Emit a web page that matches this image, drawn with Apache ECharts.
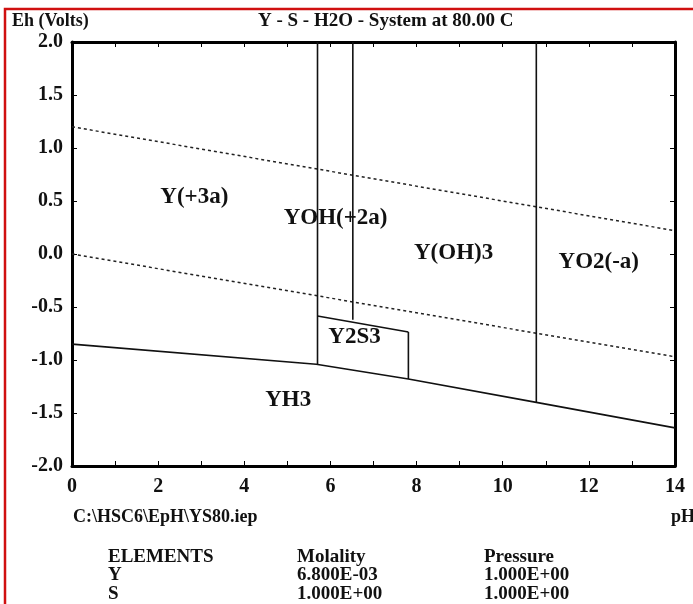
<!DOCTYPE html>
<html>
<head>
<meta charset="utf-8">
<script src="https://cdn.jsdelivr.net/npm/echarts@6/dist/echarts.min.js"></script>
<style>
html,body{margin:0;padding:0;background:#fff;}
#c{width:693px;height:604px;}
</style>
</head>
<body>
<div id="c"></div>
<script>
// ---- data (pH, Eh in volts) ----
const titleText = 'Y - S - H2O - System at 80.00 C';
const upperWater = [[0, 1.20], [14, 0.22]];
const lowerWater = [[0, 0.00], [14, -0.97]];
const hydrideBoundary = [[0, -0.85], [5.67, -1.04], [7.81, -1.18], [10.78, -1.40], [14, -1.64]];
const yIonBoundary = [[5.70, 2.0], [5.70, -1.04]];
const yohBoundary = [[6.52, 2.0], [6.52, -0.62]];
const y2s3Top = [[5.70, -0.585], [7.81, -0.736]];
const y2s3Right = [[7.81, -0.736], [7.81, -1.18]];
const yo2Boundary = [[10.78, 2.0], [10.78, -1.40]];
const regionLabels = [
  {name: 'Y(+3a)', value: [2.84, 0.54]},
  {name: 'YOH(+2a)', value: [6.12, 0.34]},
  {name: 'Y(OH)3', value: [8.86, 0.01]},
  {name: 'YO2(-a)', value: [12.23, -0.08]},
  {name: 'Y2S3', value: [6.56, -0.78]},
  {name: 'YH3', value: [5.02, -1.38]}
];
const xTicks = [0, 2, 4, 6, 8, 10, 12, 14];
const elementRows = [
  ['ELEMENTS', 'Molality', 'Pressure'],
  ['Y', '6.800E-03', '1.000E+00'],
  ['S', '1.000E+00', '1.000E+00']
];

const FONT = '"Liberation Serif", "DejaVu Serif", serif';
const chart = echarts.init(document.getElementById('c'));

function solid(data) {
  return {type: 'line', data: data, symbol: 'none', silent: true,
    lineStyle: {color: '#111', width: 1.6}, z: 3};
}
function dotted(data) {
  return {type: 'line', data: data, symbol: 'none', silent: true,
    lineStyle: {color: '#222', width: 1.5, type: [3, 3]}, z: 2};
}

const axisCommon = {
  type: 'value',
  axisLine: {show: true, onZero: false, lineStyle: {color: '#000', width: 3}},
  axisTick: {show: true, inside: true, length: 5, lineStyle: {color: '#000', width: 1}},
  splitLine: {show: false}
};

const textStyleBase = {fontFamily: FONT, fontWeight: 'bold', fill: '#111'};
const graphics = [
  {type: 'rect', shape: {x: 5, y: 9, width: 720, height: 620}, style: {fill: 'none', stroke: '#d01010', lineWidth: 2.5}, z: 10},
  {type: 'text', left: 12, top: 12, style: Object.assign({text: 'Eh (Volts)', fontSize: 18}, textStyleBase)},
  {type: 'text', left: 258, top: 12, style: Object.assign({text: titleText, fontSize: 19}, textStyleBase)},
  {type: 'text', left: 73, top: 508, style: Object.assign({text: 'C:\\HSC6\\EpH\\YS80.iep', fontSize: 18}, textStyleBase)},
  {type: 'text', left: 671, top: 508, style: Object.assign({text: 'pH', fontSize: 18}, textStyleBase)}
];
const colX = [108, 297, 484];
const rowY = [548, 566, 585];
elementRows.forEach(function (row, ri) {
  row.forEach(function (t, ci) {
    graphics.push({type: 'text', left: colX[ci], top: rowY[ri],
      style: Object.assign({text: t, fontSize: 19}, textStyleBase)});
  });
});

chart.setOption({
  animation: false,
  backgroundColor: '#fff',
  grid: {left: 72, right: 18, top: 42, bottom: 138, containLabel: false},
  xAxis: [
    Object.assign({}, axisCommon, {position: 'bottom', min: 0, max: 14, interval: 1,
      axisLabel: {show: true, margin: 11, color: '#111', fontFamily: FONT, fontWeight: 'bold', fontSize: 20,
        formatter: function (v) { return xTicks.indexOf(v) >= 0 ? String(v) : ''; }}}),
    Object.assign({}, axisCommon, {position: 'top', min: 0, max: 14, interval: 1, axisLabel: {show: false}})
  ],
  yAxis: [
    Object.assign({}, axisCommon, {position: 'left', min: -2, max: 2, interval: 0.5,
      axisLabel: {show: true, margin: 9, color: '#111', fontFamily: FONT, fontWeight: 'bold', fontSize: 20,
        formatter: function (v) { return v.toFixed(1); }}}),
    Object.assign({}, axisCommon, {position: 'right', min: -2, max: 2, interval: 0.5, axisLabel: {show: false}})
  ],
  series: [
    dotted(upperWater),
    dotted(lowerWater),
    solid(hydrideBoundary),
    solid(yIonBoundary),
    solid(yohBoundary),
    solid(y2s3Top),
    solid(y2s3Right),
    solid(yo2Boundary),
    {type: 'scatter', data: regionLabels, symbolSize: 1, silent: true, z: 5,
      itemStyle: {color: 'rgba(0,0,0,0)'},
      label: {show: true, position: 'inside', formatter: '{b}', color: '#111', opacity: 1,
        textBorderWidth: 0, textBorderColor: 'transparent',
        fontFamily: FONT, fontWeight: 'bold', fontSize: 23}}
  ],
  graphic: graphics
});
</script>
</body>
</html>
